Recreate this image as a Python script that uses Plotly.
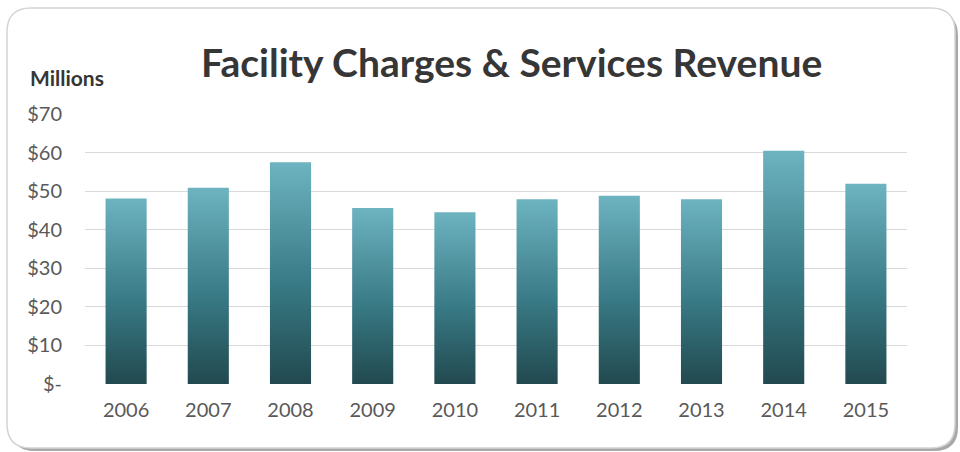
import plotly.graph_objects as go

# Annual revenue, millions of dollars
years = ["2006", "2007", "2008", "2009", "2010", "2011", "2012", "2013", "2014", "2015"]
revenue = [48.1, 50.9, 57.5, 45.6, 44.5, 47.9, 48.8, 47.9, 60.5, 51.9]
y_tick_values = [0, 10, 20, 30, 40, 50, 60, 70]
y_tick_labels = ["$-", "$10", "$20", "$30", "$40", "$50", "$60", "$70"]

W, H = 960, 452
ML, MR, MT, MB = 85, 53, 114, 68
PW, PH = W - ML - MR, H - MT - MB

BAR_HALF = 0.25
GRAD = [[0.0, "#22494f"], [0.45, "#387a85"], [1.0, "#6db3c0"]]
FONT = "Lato"
TEXT = "#595959"


def px(x, y):
    """Figure pixel position -> paper coordinates."""
    return (x - ML) / PW, (H - MB - y) / PH


def rounded_rect(x0, y0, x1, y1, r):
    def P(x, y):
        a, b = px(x, y)
        return f"{a:.5f},{b:.5f}"
    return (f"M {P(x0 + r, y0)} L {P(x1 - r, y0)} Q {P(x1, y0)} {P(x1, y0 + r)} "
            f"L {P(x1, y1 - r)} Q {P(x1, y1)} {P(x1 - r, y1)} "
            f"L {P(x0 + r, y1)} Q {P(x0, y1)} {P(x0, y1 - r)} "
            f"L {P(x0, y0 + r)} Q {P(x0, y0)} {P(x0 + r, y0)} Z")


fig = go.Figure()

# Each column is a filled region with its own bottom-to-top gradient
for i, (yr, v) in enumerate(zip(years, revenue)):
    fig.add_trace(go.Scatter(
        x=[i - BAR_HALF, i - BAR_HALF, i + BAR_HALF, i + BAR_HALF, i - BAR_HALF],
        y=[0, v, v, 0, 0],
        mode="lines",
        line=dict(width=0, color="rgba(0,0,0,0)"),
        fill="toself",
        fillgradient=dict(type="vertical", colorscale=GRAD, start=0, stop=v),
        hoverinfo="text",
        text=f"{yr}: ${v:.1f}M",
        showlegend=False,
    ))

shapes = [
    # soft drop shadow under the chart frame
    dict(type="path", xref="paper", yref="paper", layer="below",
         path=rounded_rect(11, 12, 958, 451, 24),
         fillcolor="rgba(110,110,110,0.6)", line=dict(width=0)),
    dict(type="path", xref="paper", yref="paper", layer="below",
         path=rounded_rect(7, 8, 955, 448, 24),
         fillcolor="white", line=dict(color="#d4d4d4", width=1.5)),
]

fig.update_layout(
    width=W, height=H,
    margin=dict(l=ML, r=MR, t=MT, b=MB),
    paper_bgcolor="white", plot_bgcolor="rgba(0,0,0,0)",
    shapes=shapes,
    font=dict(family=FONT, color=TEXT),
    xaxis=dict(
        range=[-0.5, len(years) - 0.5],
        tickmode="array", tickvals=list(range(len(years))), ticktext=years,
        tickfont=dict(size=20, color=TEXT), ticks="",
        showgrid=False, zeroline=False, showline=False,
        ticklabelstandoff=12, fixedrange=True,
    ),
    yaxis=dict(
        range=[0, 70],
        tickmode="array", tickvals=y_tick_values, ticktext=y_tick_labels,
        tickfont=dict(size=20, color=TEXT), ticks="",
        showgrid=True, gridcolor="#d9d9d9", gridwidth=1.2,
        zeroline=False, showline=False,
        ticklabelstandoff=22, fixedrange=True,
    ),
    annotations=[
        dict(text="<b>Facility Charges & Services Revenue</b>",
             xref="paper", yref="paper", x=px(511, 0)[0], y=px(0, 62)[1],
             xanchor="center", yanchor="middle", showarrow=False,
             font=dict(family=FONT, size=39, color="#363636")),
        dict(text="<b>Millions</b>",
             xref="paper", yref="paper", x=px(28, 0)[0], y=px(0, 77)[1],
             xanchor="left", yanchor="middle", showarrow=False,
             font=dict(family=FONT, size=21, color="#363636")),
    ],
)

fig.write_html("out.html")
